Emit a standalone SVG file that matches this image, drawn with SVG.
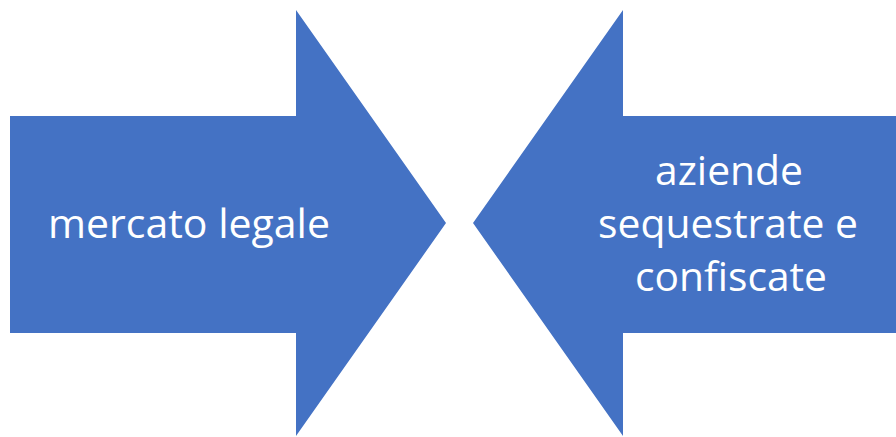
<svg xmlns="http://www.w3.org/2000/svg" width="896" height="437" viewBox="0 0 896 437">
<style>
.arrow{fill:#4472C4;}
.lbl{fill:#ffffff;font-family:"Open Sans","Noto Sans","Liberation Sans",sans-serif;font-size:40px;}
</style>
<rect width="896" height="437" fill="#ffffff"/>
<g id="node-mercato-legale">
<path class="arrow" d="M10,116 H296 V10 L446,223 L296,436 V333 H10 Z"/>
<text class="lbl" x="48" y="238" textLength="282" lengthAdjust="spacingAndGlyphs">mercato legale</text>
</g>
<g id="node-aziende">
<path class="arrow" d="M896,116 H623 V10 L473,223 L623,436 V333 H896 Z"/>
<text class="lbl" x="655" y="185" textLength="148" lengthAdjust="spacingAndGlyphs">aziende</text>
<text class="lbl" x="598" y="238" textLength="260" lengthAdjust="spacingAndGlyphs">sequestrate e</text>
<text class="lbl" x="635" y="291" textLength="192" lengthAdjust="spacingAndGlyphs">confiscate</text>
</g>
<g id="connectors"></g>
</svg>
